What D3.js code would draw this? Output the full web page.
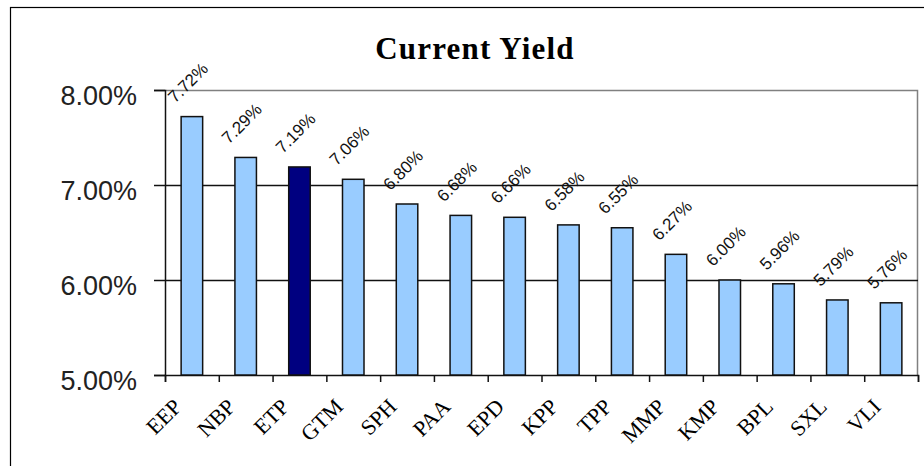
<!DOCTYPE html>
<meta charset="utf-8">
<style>
  body { margin: 0; background: #fff; }
</style>

<!-- Load d3.js -->
<script src="https://d3js.org/d3.v7.min.js"></script>

<div id="my_dataviz"></div>
<script>

// data
var tickers = ["EEP", "NBP", "ETP", "GTM", "SPH", "PAA", "EPD", "KPP", "TPP", "MMP", "KMP", "BPL", "SXL", "VLI"];
var yields = [7.72, 7.29, 7.19, 7.06, 6.80, 6.68, 6.66, 6.58, 6.55, 6.27, 6.00, 5.96, 5.79, 5.76];
var highlight = ["ETP"];
var yTicks = [5, 6, 7, 8];

var W = 924, H = 466;
var margin = {top: 90, right: 6, bottom: 91, left: 165},
    width = W - margin.left - margin.right,
    height = H - margin.top - margin.bottom;

var root = d3.select("#my_dataviz")
  .append("svg")
    .attr("width", W)
    .attr("height", H);

// outer chart border (runs off the right and bottom edge)
root.append("rect")
  .attr("x", 10.5).attr("y", 7.5)
  .attr("width", 940).attr("height", 480)
  .attr("fill", "#fff")
  .attr("stroke", "#000")
  .attr("stroke-width", 1.2);

// title
root.append("text")
  .attr("x", 475)
  .attr("y", 59)
  .attr("text-anchor", "middle")
  .style("font-family", "'Liberation Serif', 'Times New Roman', serif")
  .style("font-weight", "bold")
  .style("font-size", "31px")
  .style("letter-spacing", "1.2px")
  .text("Current Yield");

var svg = root.append("g")
  .attr("transform", "translate(" + margin.left + "," + margin.top + ")");

var x = d3.scaleBand()
  .domain(tickers)
  .range([0, width])
  .paddingInner(0.6)
  .paddingOuter(0.3);

// band boundaries for the category ticks
var xb = d3.scaleLinear().domain([0, tickers.length]).range([0, width]);

var y = d3.scaleLinear()
  .domain([5, 8])
  .range([height, 0]);

// plot frame: top and right in grey
svg.append("path")
  .attr("d", "M0.5," + 0.5 + "H" + (width - 0.5) + "V" + height)
  .attr("fill", "none")
  .attr("stroke", "#808080")
  .attr("stroke-width", 1.5);

// gridlines
svg.selectAll(".grid")
  .data(yTicks.filter(function(d) { return d > 5 && d < 8; }))
  .enter()
  .append("line")
    .attr("x1", 0)
    .attr("x2", width)
    .attr("y1", function(d) { return Math.round(y(d)) + 0.5; })
    .attr("y2", function(d) { return Math.round(y(d)) + 0.5; })
    .attr("stroke", "#111")
    .attr("stroke-width", 1.5);

// y axis
var yAxis = svg.append("g")
  .call(d3.axisLeft(y).tickValues(yTicks).tickSize(11).tickPadding(17)
    .tickFormat(function(d) { return d.toFixed(2) + "%"; }));
yAxis.select(".domain").attr("stroke", "#111").attr("stroke-width", 1.5);
yAxis.selectAll(".tick line").attr("stroke", "#111").attr("stroke-width", 1.5);
yAxis.selectAll("text")
  .attr("dy", "0.55em")
  .style("font-family", "'Liberation Sans', Arial, sans-serif")
  .style("font-size", "27px")
  .attr("fill", "#222");

// x axis
var xAxis = svg.append("g")
  .attr("transform", "translate(0," + height + ")")
  .call(d3.axisBottom(xb).tickValues(d3.range(tickers.length + 1)).tickSize(7).tickFormat(""));
xAxis.select(".domain").attr("stroke", "#111").attr("stroke-width", 1.5);
xAxis.selectAll(".tick line").attr("stroke", "#111").attr("stroke-width", 1.5);

svg.selectAll(".xlab")
  .data(tickers)
  .enter()
  .append("text")
    .attr("transform", function(d) {
      return "translate(" + (x(d) + x.bandwidth() / 2 - 9) + "," + (height + 33) + ") rotate(-45)";
    })
    .attr("text-anchor", "end")
    .style("font-family", "'Liberation Serif', 'Times New Roman', serif")
    .style("font-size", "22px")
    .text(function(d) { return d; });

// Bars
svg.selectAll("mybar")
  .data(tickers)
  .enter()
  .append("rect")
    .attr("x", function(d) { return x(d); })
    .attr("y", function(d, i) { return y(yields[i]); })
    .attr("width", x.bandwidth())
    .attr("height", function(d, i) { return height - y(yields[i]); })
    .attr("fill", function(d) { return highlight.indexOf(d) >= 0 ? "#000080" : "#99ccff"; })
    .attr("stroke", "#111")
    .attr("stroke-width", 1.5);

// value labels
svg.selectAll(".vlab")
  .data(tickers)
  .enter()
  .append("text")
    .attr("transform", function(d, i) {
      return "translate(" + (x(d) + x.bandwidth() / 2 - 4) + "," + (y(yields[i]) - 34) + ") rotate(-45)";
    })
    .attr("text-anchor", "middle")
    .attr("dy", "0.35em")
    .style("font-family", "'Liberation Sans', Arial, sans-serif")
    .style("font-size", "17px")
    .attr("fill", "#111")
    .text(function(d, i) { return yields[i].toFixed(2) + "%"; });

</script>
